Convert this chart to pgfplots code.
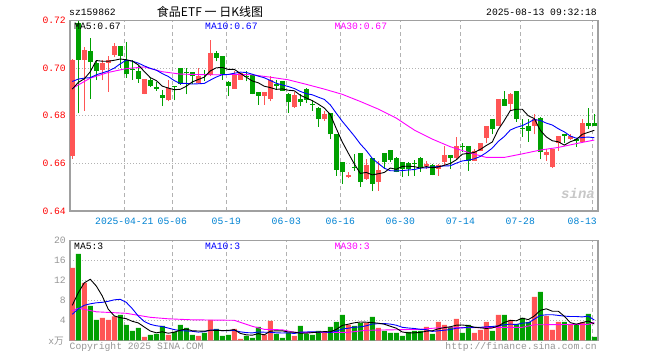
\documentclass[border=0pt]{standalone}
\usepackage{pgfplots}
\pgfplotsset{compat=1.18}
\usepackage{pgfplotstable}
\usepackage{fontspec}
\setmainfont{Liberation Mono}
\newfontfamily\cjk{Noto Sans CJK SC}
\definecolor{kred}{RGB}{255,85,85}
\definecolor{kgreen}{RGB}{0,160,0}
\definecolor{framec}{RGB}{160,160,160}
\definecolor{gridc}{RGB}{178,178,178}
\definecolor{datec}{RGB}{0,130,210}
\definecolor{lblc}{RGB}{150,150,150}
\definecolor{mablue}{RGB}{0,0,255}
\definecolor{mamag}{RGB}{255,0,255}

\pgfplotstableread{
k o h l c
0 0.663 0.704 0.662 0.7035
2 0.7035 0.709 0.682 0.7075
5 0.6993 0.7035 0.695 0.702
6 0.7021 0.705 0.690 0.7035
7 0.7055 0.7105 0.7045 0.7095
12 0.6892 0.6955 0.689 0.6955
16 0.6865 0.6952 0.686 0.6915
21 0.6937 0.700 0.6935 0.6965
23 0.6972 0.712 0.6965 0.7063
27 0.6914 0.6986 0.6914 0.6972
28 0.6951 0.698 0.695 0.6979
32 0.6882 0.690 0.6847 0.690
33 0.6872 0.6965 0.686 0.6951
37 0.6836 0.690 0.6833 0.6889
42 0.6785 0.682 0.6778 0.6806
46 0.6542 0.6562 0.654 0.6551
49 0.6535 0.6618 0.6532 0.6593
51 0.6521 0.6611 0.6486 0.6574
59 0.6587 0.661 0.6578 0.6597
61 0.6576 0.6597 0.6549 0.6593
62 0.6607 0.6674 0.659 0.6635
64 0.6621 0.6712 0.6615 0.6674
67 0.6611 0.666 0.661 0.6653
68 0.6653 0.6685 0.665 0.6685
69 0.6708 0.6757 0.6685 0.6757
71 0.6757 0.6872 0.6755 0.6872
73 0.6851 0.6895 0.682 0.6893
77 0.6757 0.6806 0.6722 0.6785
79 0.6635 0.666 0.6611 0.6646
80 0.6583 0.6662 0.658 0.6662
81 0.6685 0.6715 0.6653 0.6715
83 0.6704 0.6722 0.670 0.6715
85 0.669 0.6785 0.6688 0.6771
}\upk

\pgfplotstableread{
k o h l c
1 0.719 0.720 0.681 0.7035
3 0.707 0.7125 0.687 0.7025
4 0.702 0.7035 0.695 0.699
8 0.7095 0.7095 0.700 0.7052
9 0.7035 0.711 0.696 0.6974
10 0.6996 0.7035 0.6952 0.6992
11 0.6987 0.7008 0.6938 0.6955
13 0.6952 0.696 0.692 0.6924
14 0.692 0.694 0.6906 0.6914
15 0.6887 0.691 0.684 0.6874
17 0.6922 0.6925 0.6865 0.692
18 0.700 0.700 0.693 0.6933
19 0.698 0.700 0.689 0.6978
20 0.6983 0.6985 0.6933 0.6965
22 0.6975 0.6993 0.6945 0.697
24 0.7063 0.7072 0.7028 0.7044
25 0.7051 0.7053 0.6951 0.6972
26 0.6942 0.6945 0.6882 0.6924
29 0.6966 0.6986 0.6944 0.6963
30 0.6972 0.6975 0.689 0.6893
31 0.690 0.690 0.6847 0.6885
34 0.6935 0.695 0.691 0.6925
35 0.6944 0.6944 0.6903 0.6903
36 0.6893 0.6895 0.6813 0.6857
38 0.6872 0.689 0.684 0.6857
39 0.6914 0.6915 0.6853 0.6868
40 0.6848 0.6865 0.682 0.6846
41 0.6833 0.6835 0.6754 0.6785
43 0.681 0.681 0.6701 0.6722
44 0.6722 0.6722 0.6549 0.6572
45 0.6604 0.6604 0.6514 0.6565
47 0.6582 0.664 0.6569 0.658
48 0.6643 0.6645 0.650 0.6521
50 0.6621 0.6621 0.6482 0.6514
52 0.6643 0.6645 0.6576 0.6607
53 0.6656 0.6656 0.6604 0.6615
54 0.6621 0.6625 0.6562 0.6565
55 0.6604 0.6604 0.6542 0.6576
56 0.660 0.6605 0.6545 0.6578
57 0.660 0.6615 0.6549 0.6598
58 0.6621 0.6625 0.6565 0.6585
60 0.6593 0.6597 0.655 0.6551
63 0.6635 0.6636 0.6576 0.6622
65 0.6671 0.6685 0.6649 0.6669
66 0.6674 0.6674 0.6569 0.6611
70 0.6785 0.6785 0.6722 0.6743
72 0.6872 0.6903 0.6843 0.6843
74 0.6903 0.6903 0.6775 0.6785
75 0.6745 0.6785 0.6712 0.6743
76 0.6757 0.6785 0.669 0.6736
78 0.6792 0.6795 0.6618 0.6646
82 0.6722 0.6722 0.6685 0.6715
84 0.6704 0.6706 0.667 0.6694
86 0.6771 0.6833 0.6743 0.6757
87 0.6771 0.6806 0.6757 0.6757
}\downk

\pgfplotstableread{
k v
0 14.5
2 11.5
5 4.5
6 4.1
7 4.8
12 0.7
16 1.1
21 0.9
23 4.1
27 2.3
28 0.3
32 1.1
33 3.9
37 0.9
42 1.5
46 3.1
49 3.5
51 2.5
59 2.7
61 3.7
62 3.1
64 4.3
67 1.5
68 2.1
69 3.7
71 5.1
73 4.1
77 8.7
79 4.9
80 2.1
81 3.7
83 3.3
85 3.7
}\volup

\pgfplotstableread{
k v
1 17.3
3 6.9
4 4.1
8 5.1
9 3.1
10 1.9
11 2.5
13 1.1
14 1.3
15 2.9
17 1.7
18 3.1
19 2.5
20 1.1
22 1.5
24 2.3
25 0.9
26 1.1
29 0.9
30 0.5
31 2.7
34 1.3
35 0.5
36 1.5
38 2.9
39 1.3
40 1.1
41 1.9
43 2.7
44 3.7
45 5.1
47 2.9
48 3.5
50 4.7
52 1.9
53 1.5
54 1.5
55 0.9
56 1.7
57 1.9
58 1.9
60 1.3
63 2.7
65 1.5
66 3.1
70 1.9
72 5.1
74 3.3
75 4.5
76 3.7
78 9.7
82 3.7
84 3.3
86 5.3
87 0.7
}\voldown

\pgfplotsset{
  kstyle/.style={
    scale only axis, width=528pt,
    xmin=-0.38, xmax=87.62,
    axis line style={framec, line width=1.3pt},
    major tick length=0pt,
    xtick={8.67,16.67,25.67,35.67,44.67,54.67,64.67,74.67,86.67},
    xmajorgrids, ymajorgrids,
    major x grid style={gridc, dash pattern=on 4pt off 3pt, line width=1pt},
    major y grid style={gridc, dash pattern=on 1pt off 2pt, line width=0.9pt},
    tick label style={font=\fontsize{9.7}{10}\selectfont},
    /pgf/number format/assume math mode=true,
    yticklabel style={inner sep=0pt, xshift=-4pt},
  }
}

\begin{document}
\begin{tikzpicture}
\useasboundingbox (0pt,0pt) rectangle (660pt,360pt);

% ---------------- price panel ----------------
\begin{axis}[kstyle,
  at={(70pt,149pt)}, anchor=south west, height=190.5pt,
  ymin=0.64, ymax=0.72,
  ytick={0.64,0.66,0.68,0.70,0.72},
  yticklabel style={text=red, /pgf/number format/fixed, /pgf/number format/fixed zerofill, /pgf/number format/precision=2},
  xticklabels={2025-04-21,05-06,05-19,06-03,06-16,06-30,07-14,07-28,\makebox[0pt][r]{08-13\kern-4.5pt}},
  xticklabel style={text=datec, anchor=north, inner sep=0pt, yshift=-6.5pt},
]
% wicks
\addplot[draw=none, mark=none, error bars/.cd, y dir=plus, y explicit, error mark=none,
  error bar style={kred, line width=1pt}]
  table[x=k, y=l, y error expr=\thisrow{h}-\thisrow{l}] {\upk};
\addplot[draw=none, mark=none, error bars/.cd, y dir=plus, y explicit, error mark=none,
  error bar style={kgreen, line width=1pt}]
  table[x=k, y=l, y error expr=\thisrow{h}-\thisrow{l}] {\downk};
% bodies
\addplot[draw=none, mark=none, error bars/.cd, y dir=plus, y explicit, error mark=none,
  error bar style={kred, line width=5pt}]
  table[x=k, y=o, y error expr={max(\thisrow{c}-\thisrow{o},0.0004)}] {\upk};
\addplot[draw=none, mark=none, error bars/.cd, y dir=plus, y explicit, error mark=none,
  error bar style={kgreen, line width=5pt}]
  table[x=k, y=c, y error expr={max(\thisrow{o}-\thisrow{c},0.0004)}] {\downk};
% MA30
\addplot[mamag, line width=0.9pt, mark=none] coordinates {
(0,0.6915)(3,0.6958)(6,0.6982)(9,0.6998)(12,0.7005)(15,0.6985)(18,0.6975)(21,0.6973)
(24,0.6972)(27,0.6974)(30,0.6972)(33,0.6962)(36,0.6951)(39,0.6932)(42,0.6912)(45,0.6890)
(48,0.6860)(51,0.6828)(54,0.6790)(57,0.6740)(60,0.6702)(63,0.6670)(66,0.6646)(69,0.6625)
(72,0.6625)(75,0.6640)(78,0.6656)(81,0.6667)(84,0.6683)(87,0.6698)};
% MA10
\addplot[mablue, line width=0.9pt, mark=none] coordinates {
(0,0.6944)(1,0.6954)(2,0.6958)(3,0.6960)(4,0.6972)(5,0.6980)(6,0.6988)(7,0.7000)(8,0.7018)
(9,0.70336)(10,0.70293)(11,0.70213)(12,0.70093)(13,0.69992)(14,0.69916)(15,0.6977)(16,0.6965)
(17,0.69475)(18,0.69356)(19,0.6936)(20,0.69333)(21,0.69343)(22,0.69358)(23,0.69497)(24,0.69627)
(25,0.69725)(26,0.69734)(27,0.69786)(28,0.69832)(29,0.69817)(30,0.69745)(31,0.69665)(32,0.69595)
(33,0.69483)(34,0.69364)(35,0.69295)(36,0.69228)(37,0.69145)(38,0.69023)(39,0.68928)(40,0.68881)
(41,0.68781)(42,0.68687)(43,0.68458)(44,0.68105)(45,0.67767)(46,0.67461)(47,0.67152)(48,0.66816)
(49,0.66541)(50,0.66209)(51,0.65998)(52,0.65799)(53,0.65692)(54,0.65685)(55,0.65696)(56,0.65723)
(57,0.65741)(58,0.65805)(59,0.65809)(60,0.65846)(61,0.65865)(62,0.65893)(63,0.659)(64,0.66009)
(65,0.66102)(66,0.66135)(67,0.6619)(68,0.6629)(69,0.6645)(70,0.66642)(71,0.66921)(72,0.67129)
(73,0.674)(74,0.67511)(75,0.67585)(76,0.6771)(77,0.67842)(78,0.67803)(79,0.67692)(80,0.67611)
(81,0.67454)(82,0.67326)(83,0.67148)(84,0.67057)(85,0.67085)(86,0.67106)(87,0.67078)};
% MA5
\addplot[black, line width=0.9pt, mark=none] coordinates {
(0,0.6912)(1,0.6940)(2,0.6955)(3,0.6985)(4,0.7032)(5,0.7029)(6,0.7029)(7,0.7033)(8,0.70384)
(9,0.70352)(10,0.70296)(11,0.70136)(12,0.69856)(13,0.6960)(14,0.6948)(15,0.69244)(16,0.69164)
(17,0.69094)(18,0.69112)(19,0.6924)(20,0.69422)(21,0.69522)(22,0.69622)(23,0.69882)(24,0.70014)
(25,0.70028)(26,0.69946)(27,0.6995)(28,0.69782)(29,0.6962)(30,0.69462)(31,0.69384)(32,0.6924)
(33,0.69184)(34,0.69108)(35,0.69128)(36,0.69072)(37,0.6905)(38,0.68862)(39,0.68748)(40,0.68634)
(41,0.6849)(42,0.68324)(43,0.68054)(44,0.67462)(45,0.6690)(46,0.66432)(47,0.6598)(48,0.65578)
(49,0.6562)(50,0.65518)(51,0.65564)(52,0.65618)(53,0.65806)(54,0.6575)(55,0.65874)(56,0.65882)
(57,0.65864)(58,0.65804)(59,0.65868)(60,0.65818)(61,0.65848)(62,0.65922)(63,0.65996)(64,0.6615)
(65,0.66386)(66,0.66422)(67,0.66458)(68,0.66584)(69,0.6675)(70,0.66898)(71,0.6742)(72,0.678)
(73,0.68216)(74,0.68272)(75,0.68272)(76,0.680)(77,0.67884)(78,0.6739)(79,0.67112)(80,0.6695)
(81,0.66908)(82,0.66768)(83,0.66906)(84,0.67002)(85,0.6722)(86,0.67304)(87,0.67388)};
\end{axis}

% ---------------- volume panel ----------------
\begin{axis}[kstyle,
  at={(70pt,19.7pt)}, anchor=south west, height=100pt,
  ymin=0, ymax=20,
  ytick={4,8,12,16,20},
  yticklabel style={text=lblc},
  xticklabels={},
]
\addplot[ybar, bar width=5pt, bar shift=0pt, fill=kred, draw=none] table[x=k, y=v] {\volup};
\addplot[ybar, bar width=5pt, bar shift=0pt, fill=kgreen, draw=none] table[x=k, y=v] {\voldown};
% vol MA30
\addplot[mamag, line width=0.9pt, mark=none] coordinates {
(0,5.9)(1,6.4)(2,6.2)(4,5.7)(9,5.4)(11,5.0)(13,4.6)(16,4.3)(20,4.1)(27,4.0)(28,3.6)(30,2.8)
(32,2.2)(35,2.1)(37,1.6)(46,1.6)(49,2.0)(58,2.2)(61,2.5)(75,2.6)(77,3.1)(86,3.2)(87,3.6)};
% vol MA10
\addplot[mablue, line width=0.9pt, mark=none] coordinates {
(0,5.2)(1,6.3)(2,7.0)(3,7.3)(4,7.5)(5,7.6)(6,7.8)(7,8.1)(8,8.2)(9,7.59)(10,6.33)(11,4.85)
(12,3.77)(13,3.19)(14,2.91)(15,2.75)(16,2.45)(17,2.14)(18,1.94)(19,1.88)(20,1.8)(21,1.64)
(22,1.72)(23,2.02)(24,2.12)(25,1.92)(26,1.92)(27,1.98)(28,1.7)(29,1.54)(30,1.48)(31,1.66)
(32,1.62)(33,1.6)(34,1.5)(35,1.46)(36,1.5)(37,1.36)(38,1.62)(39,1.66)(40,1.72)(41,1.64)
(42,1.68)(43,1.56)(44,1.8)(45,2.26)(46,2.42)(47,2.62)(48,2.68)(49,2.9)(50,3.26)(51,3.32)
(52,3.36)(53,3.24)(54,3.02)(55,2.6)(56,2.46)(57,2.36)(58,2.2)(59,2.12)(60,1.78)(61,1.9)
(62,2.02)(63,2.14)(64,2.42)(65,2.48)(66,2.62)(67,2.58)(68,2.6)(69,2.7)(70,2.76)(71,2.9)
(72,3.1)(73,3.24)(74,3.14)(75,3.44)(76,3.5)(77,4.22)(78,4.98)(79,5.1)(80,5.12)(81,4.98)
(82,4.84)(83,4.76)(84,4.76)(85,4.68)(86,4.84)(87,4.04)};
% vol MA5
\addplot[black, line width=0.9pt, mark=none] coordinates {
(0,7.0)(1,9.5)(2,11.5)(3,12.2)(4,10.86)(5,8.86)(6,6.22)(7,4.88)(8,4.52)(9,4.32)(10,3.8)
(11,3.48)(12,2.66)(13,1.86)(14,1.5)(15,1.7)(16,1.42)(17,1.62)(18,2.02)(19,2.26)(20,1.9)
(21,1.86)(22,1.82)(23,2.02)(24,1.98)(25,1.94)(26,1.98)(27,2.14)(28,1.38)(29,1.1)(30,1.02)
(31,1.34)(32,1.1)(33,1.82)(34,1.9)(35,1.9)(36,1.66)(37,1.62)(38,1.42)(39,1.42)(40,1.54)
(41,1.62)(42,1.74)(43,1.7)(44,2.18)(45,2.98)(46,3.22)(47,3.5)(48,3.66)(49,3.62)(50,3.54)
(51,3.42)(52,3.22)(53,2.82)(54,2.42)(55,1.66)(56,1.5)(57,1.5)(58,1.58)(59,1.82)(60,1.9)
(61,2.3)(62,2.54)(63,2.7)(64,3.02)(65,3.06)(66,2.94)(67,2.62)(68,2.5)(69,2.38)(70,2.46)
(71,2.86)(72,3.58)(73,3.98)(74,3.9)(75,4.42)(76,4.14)(77,4.86)(78,5.98)(79,6.3)(80,5.82)
(81,5.82)(82,4.82)(83,3.54)(84,3.22)(85,3.54)(86,3.86)(87,3.26)};
\end{axis}

% ---------------- texts ----------------
\begin{scope}[every node/.style={inner sep=0pt, font=\fontsize{9.7}{10}\selectfont}]
\node[anchor=west] at (69pt,348pt) {sz159862};
\node at (210pt,348pt) {\cjk\fontsize{12}{13}\selectfont 食品ETF 一 日K线图};
\node[anchor=east] at (597pt,348pt) {2025-08-13 09:32:18};
\node[anchor=west] at (74pt,333.5pt) {MA5:0.67};
\node[anchor=west, text=mablue] at (205pt,333.5pt) {MA10:0.67};
\node[anchor=west, text=mamag] at (334.5pt,333.5pt) {MA30:0.67};
\node[anchor=west] at (74pt,113.7pt) {MA5:3};
\node[anchor=west, text=mablue] at (205pt,113.7pt) {MA10:3};
\node[anchor=west, text=mamag] at (334.5pt,113.7pt) {MA30:3};
\node[anchor=east, text=lblc] at (64pt,19pt) {x{\cjk 万}};
\node[anchor=west, text=lblc] at (69.5pt,13.5pt) {Copyright 2025 SINA.COM};
\node[anchor=east, text=lblc] at (597pt,13.5pt) {http://finance.sina.com.cn};
\node[text=black!22, font=\fontsize{14}{14}\selectfont\bfseries\itshape] at (578pt,167pt) {sina};
\end{scope}
\end{tikzpicture}
\end{document}
